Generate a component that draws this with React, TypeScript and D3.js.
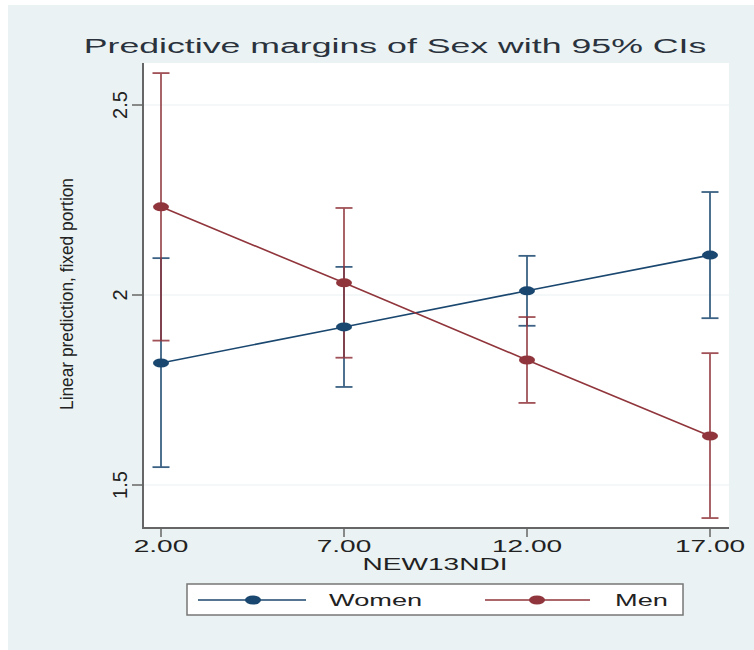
import React from "react";
import * as d3 from "d3";

const xValues = [2, 7, 12, 17];
const xTickLabels = ["2.00", "7.00", "12.00", "17.00"];
const yTicks = [1.5, 2, 2.5];
const yTickLabels = ["1.5", "2", "2.5"];

const womenMean = [1.821, 1.916, 2.011, 2.105];
const womenLow = [1.547, 1.758, 1.919, 1.939];
const womenHigh = [2.097, 2.074, 2.103, 2.271];

const menMean = [2.232, 2.032, 1.829, 1.629];
const menLow = [1.88, 1.835, 1.716, 1.413];
const menHigh = [2.584, 2.229, 1.942, 1.847];

const seriesNames = ["Women", "Men"];

const W = 754;
const H = 650;
const plot = { left: 143, right: 729, top: 63, bottom: 528 };
const FONT = "'Liberation Sans', Arial, sans-serif";
const SX = 1.7;

const navy = "#1a476f";
const maroon = "#90353b";
const bg = "#eaf2f3";

export default function App() {
  const x = d3.scaleLinear().domain([2, 17]).range([161, 710]);
  const y = d3.scaleLinear().domain([1.5, 2.5]).range([485, 105]);

  const series = [
    { name: seriesNames[0], mean: womenMean, lo: womenLow, hi: womenHigh, color: navy },
    { name: seriesNames[1], mean: menMean, lo: menLow, hi: menHigh, color: maroon },
  ];

  const line = d3
    .line<number>()
    .x((_, i) => x(xValues[i]))
    .y((d) => y(d));

  const capHalf = 8.5;

  const stretchedText = (
    tx: number,
    ty: number,
    txt: string,
    size: number,
    anchor: string,
    color = "#222",
    key?: string
  ) => (
    <text
      key={key}
      transform={`translate(${tx},${ty}) scale(${SX},1)`}
      textAnchor={anchor}
      fontFamily={FONT}
      fontSize={size}
      fill={color}
    >
      {txt}
    </text>
  );

  const legendItems = [
    { name: seriesNames[0], color: navy, x1: 198, x2: 306, dot: 253, tx: 329 },
    { name: seriesNames[1], color: maroon, x1: 485, x2: 590, dot: 537, tx: 615 },
  ];

  return (
    <svg
      width={W}
      height={H}
      style={{ position: "absolute", left: 0, top: 0, background: "#fff" }}
    >
      <rect x={8} y={5} width={W - 8} height={H - 5} fill={bg} />
      {/* plot region */}
      <rect
        x={plot.left}
        y={plot.top}
        width={plot.right - plot.left}
        height={plot.bottom - plot.top}
        fill="#fff"
      />
      {/* gridlines */}
      {yTicks.map((t) => (
        <line
          key={"g" + t}
          x1={plot.left}
          x2={plot.right}
          y1={y(t)}
          y2={y(t)}
          stroke={bg}
          strokeWidth={1.2}
        />
      ))}
      {/* title */}
      {stretchedText(395, 53, "Predictive margins of Sex with 95% CIs", 21, "middle", "#2a333d")}

      {/* axes */}
      <line x1={plot.left} x2={plot.left} y1={plot.top} y2={plot.bottom + 1} stroke="#666" strokeWidth={2} />
      <line x1={plot.left - 1} x2={plot.right} y1={plot.bottom} y2={plot.bottom} stroke="#666" strokeWidth={2} />
      {yTicks.map((t, i) => (
        <g key={"yt" + t}>
          <line x1={132} x2={plot.left} y1={y(t)} y2={y(t)} stroke="#666" strokeWidth={1.5} />
          <text
            transform={`translate(127,${y(t)}) rotate(-90)`}
            textAnchor="middle"
            fontFamily={FONT}
            fontSize={20}
            fill="#222"
          >
            {yTickLabels[i]}
          </text>
        </g>
      ))}
      {xValues.map((v, i) => (
        <g key={"xt" + v}>
          <line x1={x(v)} x2={x(v)} y1={plot.bottom} y2={537} stroke="#666" strokeWidth={1.5} />
          {stretchedText(x(v), 552, xTickLabels[i], 16.5, "middle")}
        </g>
      ))}
      {stretchedText(435, 570, "NEW13NDI", 16.5, "middle")}
      <text
        transform={`translate(73,294) rotate(-90)`}
        textAnchor="middle"
        fontFamily={FONT}
        fontSize={18}
        textLength={232}
        lengthAdjust="spacingAndGlyphs"
        fill="#222"
      >
        Linear prediction, fixed portion
      </text>

      {/* error bars */}
      {series.map((s) =>
        xValues.map((v, i) => (
          <g key={s.name + "ci" + v} stroke={s.color} strokeWidth={1.8} opacity={0.85}>
            <line x1={x(v)} x2={x(v)} y1={y(s.lo[i])} y2={y(s.hi[i])} />
            <line x1={x(v) - capHalf} x2={x(v) + capHalf} y1={y(s.lo[i])} y2={y(s.lo[i])} />
            <line x1={x(v) - capHalf} x2={x(v) + capHalf} y1={y(s.hi[i])} y2={y(s.hi[i])} />
          </g>
        ))
      )}
      {/* lines and markers */}
      {series.map((s) => (
        <g key={s.name + "line"}>
          <path d={line(s.mean) || ""} fill="none" stroke={s.color} strokeWidth={1.6} />
          {s.mean.map((m, i) => (
            <ellipse key={i} cx={x(xValues[i])} cy={y(m)} rx={8} ry={4.5} fill={s.color} />
          ))}
        </g>
      ))}

      {/* legend */}
      <rect x={187} y={584} width={496} height={31} fill="#fff" stroke="#777" strokeWidth={1.5} />
      {legendItems.map((l) => (
        <g key={"lg" + l.name}>
          <line x1={l.x1} x2={l.x2} y1={600} y2={600} stroke={l.color} strokeWidth={1.6} />
          <ellipse cx={l.dot} cy={600} rx={8} ry={4.5} fill={l.color} />
          {stretchedText(l.tx, 606, l.name, 16, "start")}
        </g>
      ))}
    </svg>
  );
}
